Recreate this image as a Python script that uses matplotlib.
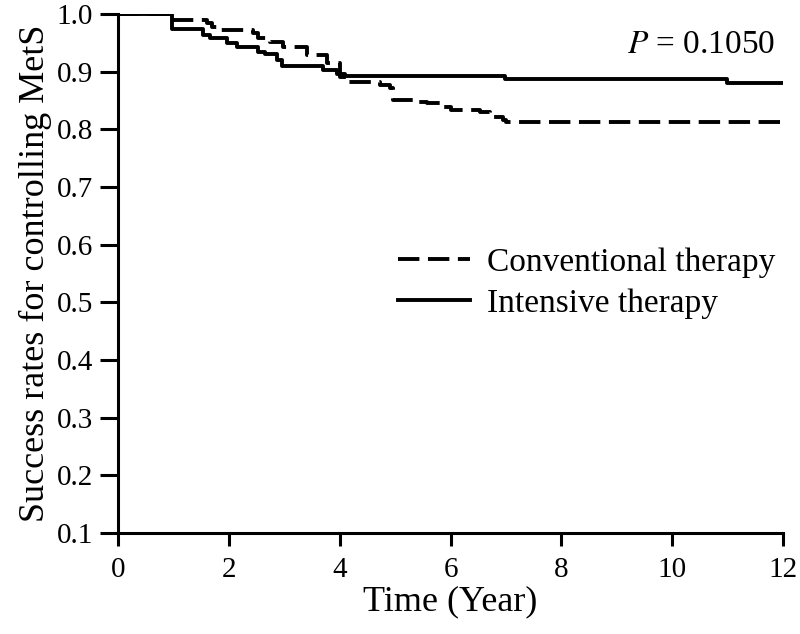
import matplotlib
matplotlib.use("Agg")
import matplotlib.pyplot as plt

# Kaplan-Meier style step curves
conv_time = [0, 1.0, 1.6, 1.7, 1.84, 2.44, 2.53, 2.74, 2.98, 3.41, 3.77, 4.0, 4.13,
             4.73, 4.9, 4.96, 5.4, 5.57, 5.87, 6.0, 6.53, 6.71, 6.95, 7.0, 11.95, 12.0]
conv_rate = [1.0, 0.990, 0.984, 0.977, 0.972, 0.967, 0.958, 0.952, 0.943, 0.929, 0.915, 0.890, 0.882,
             0.877, 0.872, 0.851, 0.847, 0.845, 0.839, 0.834, 0.830, 0.822, 0.816, 0.812, 0.807, 0.807]

int_time = [0, 0.97, 1.53, 1.66, 1.97, 2.14, 2.53, 2.65, 2.87, 2.96, 3.7, 3.95, 4.1, 6.98, 10.98, 12.0]
int_rate = [1.0, 0.974, 0.964, 0.958, 0.950, 0.943, 0.934, 0.930, 0.920, 0.910, 0.903, 0.896, 0.893,
            0.887, 0.880, 0.880]

x_ticks = [0, 2, 4, 6, 8, 10, 12]
y_ticks = [0.1, 0.2, 0.3, 0.4, 0.5, 0.6, 0.7, 0.8, 0.9, 1.0]

plt.rcParams["font.family"] = ["Liberation Serif", "DejaVu Serif"]
plt.rcParams["mathtext.fontset"] = "stix"

fig = plt.figure(figsize=(8, 6.34), dpi=100)
ax = fig.add_axes([0.1475, 0.1593, 0.8315, 0.8187])

ax.step(conv_time, conv_rate, where="post", color="black", lw=2.8,
        linestyle=(0, (5.5, 2.2)), label="Conventional therapy")
ax.step(int_time, int_rate, where="post", color="black", lw=2.8,
        label="Intensive therapy")

ax.set_xlim(0, 12)
ax.set_ylim(0.1, 1.0)
ax.set_xticks(x_ticks)
ax.set_yticks(y_ticks)
ax.set_yticklabels([f"{v:.1f}" for v in y_ticks])

for s in ["top", "right"]:
    ax.spines[s].set_visible(False)
for s in ["left", "bottom"]:
    ax.spines[s].set_linewidth(2.2)
ax.tick_params(direction="out", width=2.2, labelsize=21)
ax.tick_params(axis="x", length=9, pad=8)
ax.tick_params(axis="y", length=13, pad=5)

ax.set_xlabel("Time (Year)", fontsize=26, labelpad=2)
ax.set_ylabel("Success rates for controlling MetS", fontsize=26, labelpad=3)

ax.text(0.988, 0.940, "$P$ = 0.1050", transform=ax.transAxes, fontsize=24,
        ha="right", va="center")

ax.legend(loc="center left", bbox_to_anchor=(0.421, 0.4817), frameon=False,
          fontsize=24, handlelength=2.16, handletextpad=0.5, labelspacing=0.32,
          borderpad=0, borderaxespad=0)

fig.savefig("out.png", dpi=100)
